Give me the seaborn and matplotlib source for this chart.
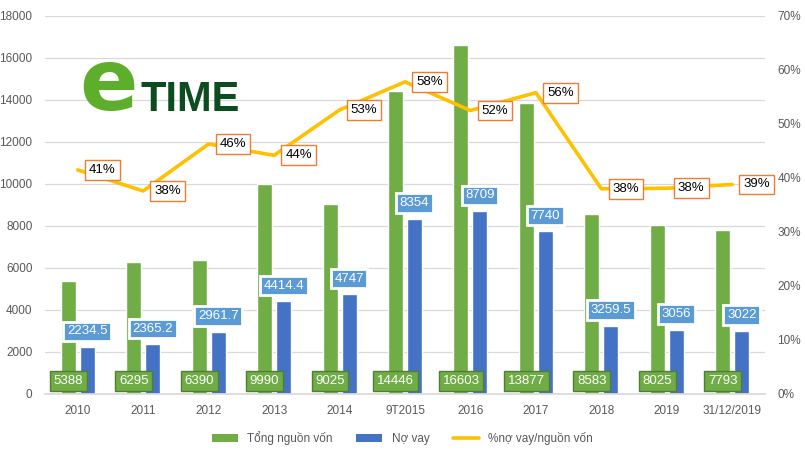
import matplotlib
matplotlib.use("Agg")
import matplotlib.pyplot as plt
import seaborn as sns
import pandas as pd
from matplotlib.patches import Patch
from matplotlib.lines import Line2D
from matplotlib.ticker import PercentFormatter

years = ["2010", "2011", "2012", "2013", "2014", "9T2015", "2016", "2017", "2018", "2019", "31/12/2019"]
tong_nguon_von = [5388, 6295, 6390, 9990, 9025, 14446, 16603, 13877, 8583, 8025, 7793]
no_vay = [2234.5, 2365.2, 2961.7, 4414.4, 4747, 8354, 8709, 7740, 3259.5, 3056, 3022]
ty_le = [0.415, 0.376, 0.463, 0.442, 0.526, 0.578, 0.525, 0.558, 0.380, 0.381, 0.388]
ty_le_labels = ["41%", "38%", "46%", "44%", "53%", "58%", "52%", "56%", "38%", "38%", "39%"]
no_vay_labels = ["2234.5", "2365.2", "2961.7", "4414.4", "4747", "8354", "8709", "7740", "3259.5", "3056", "3022"]

GREEN = "#70AD47"
BLUE = "#4472C4"
YELLOW = "#FFC000"
ORANGE = "#ED7D31"
GREY = "#595959"

sns.set_theme(style="white")
plt.rcParams["font.family"] = ["Liberation Sans", "DejaVu Sans"]

df = pd.DataFrame({
    "year": years * 2,
    "value": tong_nguon_von + no_vay,
    "series": ["Tổng nguồn vốn"] * len(years) + ["Nợ vay"] * len(years),
})

fig = plt.figure(figsize=(8.05, 4.55), dpi=100)
ax = fig.add_axes([45 / 805, 1 - 394 / 455, 720 / 805, 378 / 455])
sns.barplot(data=df, x="year", y="value", hue="series", order=years,
            hue_order=["Tổng nguồn vốn", "Nợ vay"],
            palette=[GREEN, BLUE], width=0.58, gap=0.21, saturation=1,
            legend=False, ax=ax)
ax.set_ylim(0, 18000)
ax.set_xlim(-0.5, len(years) - 0.5)
ax.set_yticks(range(0, 18001, 2000))
ax.set_xlabel("")
ax.set_ylabel("")
ax.yaxis.grid(True, color="#D9D9D9", linewidth=0.9)
ax.set_axisbelow(True)
for s in ["left", "right", "top"]:
    ax.spines[s].set_visible(False)
ax.spines["bottom"].set_color("#D9D9D9")
ax.tick_params(axis="y", length=0, pad=9, labelsize=8.5, labelcolor=GREY)
ax.tick_params(axis="x", length=0, pad=8, labelsize=8.5, labelcolor=GREY)

off = 0.145
for i in range(len(years)):
    ax.text(i - off, 620, str(tong_nguon_von[i]), ha="center", va="center",
            color="white", fontsize=9.5,
            bbox=dict(boxstyle="square,pad=0.28", facecolor=GREEN, edgecolor="#507E32", linewidth=1),
            zorder=5)
    ax.annotate(no_vay_labels[i], (i + off, no_vay[i]), xytext=(0, 7),
                textcoords="offset points", ha="center", va="bottom",
                color="white", fontsize=9.5,
                bbox=dict(boxstyle="square,pad=0.28", facecolor="#5B9BD5", edgecolor="white", linewidth=2),
                zorder=5)

ax2 = ax.twinx()
sns.lineplot(x=list(range(len(years))), y=ty_le, ax=ax2, color=YELLOW, linewidth=2.6)
ax2.set_ylim(0, 0.7)
ax2.set_yticks([i / 10 for i in range(8)])
ax2.yaxis.set_major_formatter(PercentFormatter(1.0, decimals=0))
ax2.tick_params(axis="y", length=0, pad=9, labelsize=8.5, labelcolor=GREY)
for s in ax2.spines.values():
    s.set_visible(False)
ax2.set_xlim(-0.5, len(years) - 0.5)
for i in range(len(years)):
    ax2.annotate(ty_le_labels[i], (i, ty_le[i]), xytext=(8, 0), textcoords="offset points",
                 ha="left", va="center", color="black", fontsize=9.5,
                 bbox=dict(boxstyle="square,pad=0.3", facecolor="white", edgecolor=ORANGE, linewidth=1),
                 zorder=6)

# logo
fig.text(79 / 805, 1 - 110 / 455, "e", fontsize=62, fontweight="bold", color="#5DAE2B",
         ha="left", va="baseline", family=["DejaVu Sans"])
fig.text(140 / 805, 1 - 111 / 455, "TIME", fontsize=30, fontweight="bold", color="#0B4D1E",
         ha="left", va="baseline")

handles = [Patch(facecolor=GREEN, edgecolor="none"),
           Patch(facecolor=BLUE, edgecolor="none"),
           Line2D([0], [0], color=YELLOW, linewidth=2.6)]
leg = fig.legend(handles, ["Tổng nguồn vốn", "Nợ vay", "%nợ vay/nguồn vốn"],
                 loc="center", bbox_to_anchor=(0.5, 1 - 438 / 455), ncol=3, frameon=False,
                 fontsize=8.5, handlelength=2.2, handleheight=0.6, columnspacing=2.0)
for t in leg.get_texts():
    t.set_color(GREY)

fig.savefig("out.png", dpi=100)
